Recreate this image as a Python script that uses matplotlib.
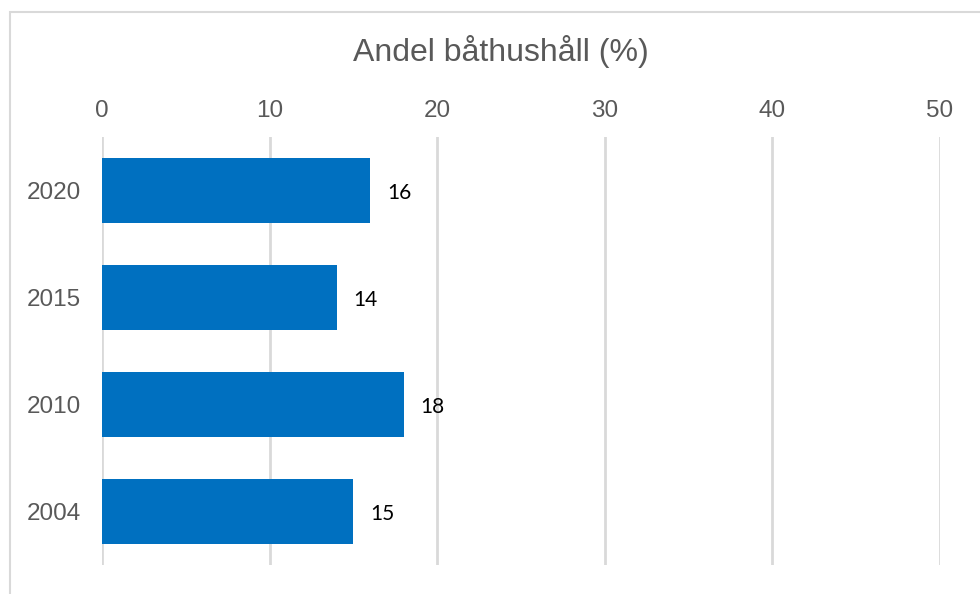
import matplotlib
matplotlib.use("Agg")
import matplotlib.pyplot as plt
from matplotlib.patches import Rectangle

years = ["2020", "2015", "2010", "2004"]
values = [16, 14, 18, 15]
xticks = [0, 10, 20, 30, 40, 50]
title = "Andel båthushåll (%)"

plt.rcParams['font.family'] = ['Liberation Sans', 'DejaVu Sans']

fig = plt.figure(figsize=(9.8, 5.94), dpi=100)
ax = fig.add_axes([102/980, 1-565/594, (940-102)/980, (565-137)/594])

ypos = list(range(len(years)))
ax.barh(ypos, values, height=0.6, color="#0070C0", zorder=3)
ax.set_ylim(len(years)-0.5, -0.5)
ax.set_xlim(0, 50)
ax.set_yticks(ypos)
ax.set_yticklabels(years)
ax.set_xticks(xticks)
ax.set_xticklabels([str(t) for t in xticks])
ax.xaxis.tick_top()
ax.tick_params(axis='x', length=0, pad=11, labelsize=17.5, labelcolor="#595959")
ax.tick_params(axis='y', length=0, pad=15, labelsize=17.5, labelcolor="#595959")
for s in ax.spines.values():
    s.set_visible(False)
ax.grid(axis='x', color="#d9d9d9", linewidth=2, zorder=0)
ax.grid(axis='y', visible=False)

for y, v in zip(ypos, values):
    ax.annotate(str(v), xy=(v, y), xytext=(12, -1.5), textcoords='offset points',
                va='center', ha='left', fontsize=15, color='black',
                family=['Lato', 'DejaVu Sans'])

fig.text(501/980, 1-51/594, title, ha='center', va='center', fontsize=23, color="#595959")

fig.patches.append(Rectangle((10/980, -0.1), 1.2, 1-12/594+0.1, transform=fig.transFigure,
                             fill=False, edgecolor="#d9d9d9", linewidth=1.5))

fig.savefig("out.png", dpi=100)
